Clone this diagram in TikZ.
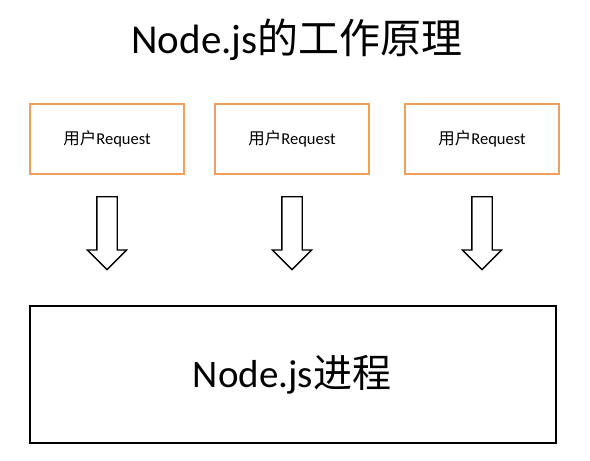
\documentclass[tikz,border=0pt]{standalone}
\usepackage{fontspec}
\setmainfont{Carlito}
\newfontfamily\cjk{Noto Sans CJK SC}
\usetikzlibrary{shapes.arrows}
\definecolor{reqorange}{RGB}{241,160,92}
\begin{document}
\begin{tikzpicture}[x=1pt,y=-1pt,
    request/.style ={rectangle, draw=reqorange, line width=2pt, minimum width=154pt, minimum height=70pt, inner sep=0pt, font=\fontsize{16.5}{19}\selectfont},
    process/.style ={rectangle, draw, line width=2pt, minimum width=526pt, minimum height=137pt, inner sep=0pt},
    flow/.style ={single arrow, draw, line width=1.3pt, shape border rotate=270, minimum width=38pt, minimum height=73pt, single arrow head extend=9.5pt, single arrow tip angle=90, inner xsep=9.5pt, inner ysep=0pt, anchor=tail}]
   \useasboundingbox (0,0) rectangle (590,461);
   \node (title) [anchor=base, font=\fontsize{41}{48}\selectfont] at (297,53) {Node.js{\cjk 的工作原理}};

   \node[request] (R1) at (107,139) {{\cjk 用户}Request};
   \node[request] (R2) at (292,139) {{\cjk 用户}Request};
   \node[request] (R3) at (482,139) {{\cjk 用户}Request};

   \node[flow] (A1) at (107,196) {};
   \node[flow] (A2) at (292,196) {};
   \node[flow] (A3) at (482,196) {};

   \node[process] (P) at (293,374.5) {};
   \node (ptext) [anchor=base, font=\fontsize{39}{46}\selectfont] at (292,387) {Node.js{\cjk 进程}};
 \end{tikzpicture}
\end{document}
